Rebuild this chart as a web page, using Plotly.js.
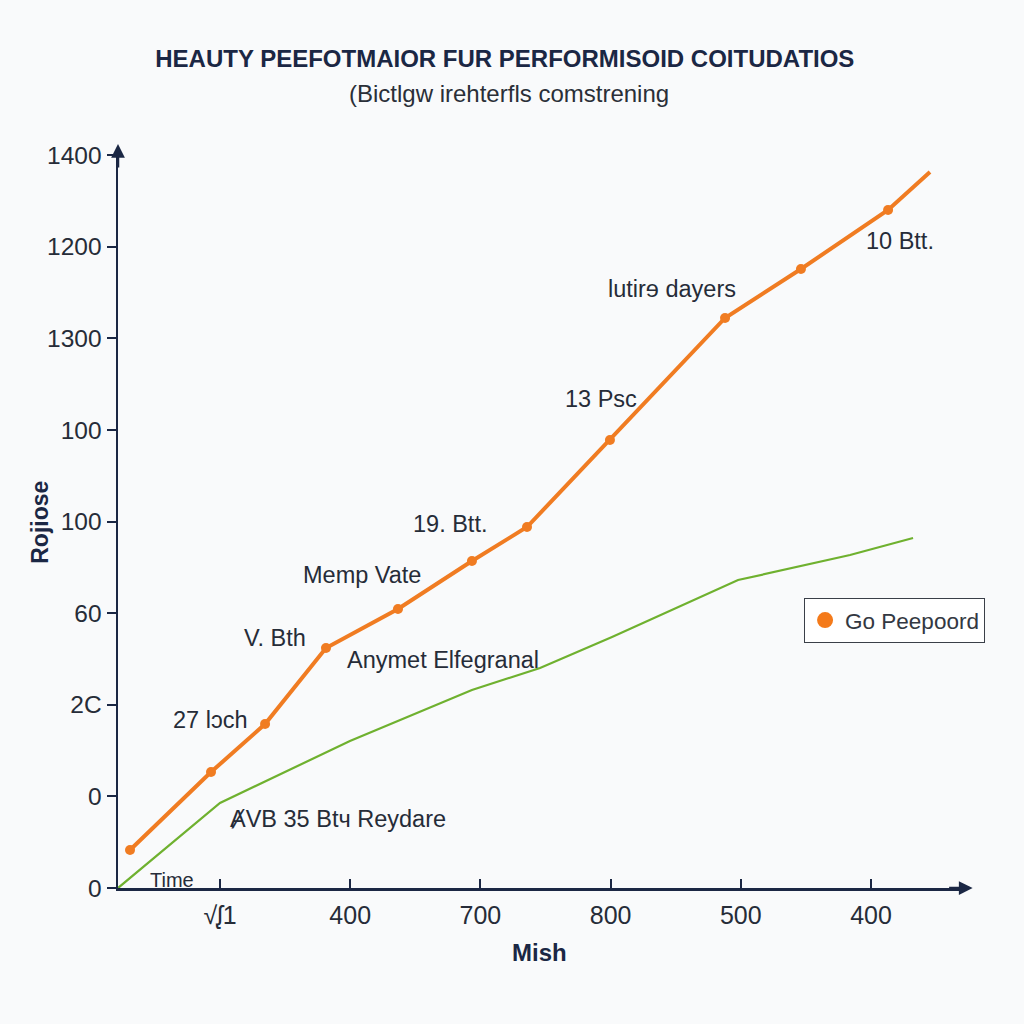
<!DOCTYPE html>
<html>
<head>
<meta charset="utf-8">
<script src="https://cdn.plot.ly/plotly-3.0.1.min.js"></script>
<style>html,body{margin:0;padding:0;background:#f9fafb;}#chart{width:1024px;height:1024px;}</style>
</head>
<body>
<div id="chart"></div>
<script>
// Data (positions expressed in tick-index units of the garbled axes)
const xTickVals = [1, 2, 3, 4, 5, 6];
const xTickText = ["√ᶘ1", "400", "700", "800", "500", "400"];
const yTickVals = [0, 1, 2, 3, 4, 5, 6, 7, 8];
const yTickText = ["0", "0", "2C", "60", "100", "100", "1300", "1200", "1400"];

const orangeX = [0.309, 0.931, 1.346, 1.814, 2.367, 2.935, 3.358, 3.995, 4.879, 5.462, 6.131, 6.453];
const orangeY = [0.415, 1.266, 1.790, 2.620, 3.046, 3.570, 3.941, 4.891, 6.223, 6.758, 7.402, 7.817];
const greenX = [0.217, 1.0, 1.998, 2.935, 3.458, 4.011, 4.979, 5.839, 6.323];
const greenY = [0.0, 0.928, 1.605, 2.162, 2.402, 2.740, 3.362, 3.635, 3.821];

const seriesName = "Go Peepoord";
const xTitle = "Mish";
const yTitle = "Rojiose";
const chartTitle = "HEAUTY PEEFOTMAIOR FUR PERFORMISOID COITUDATIOS";
const chartSubtitle = "(Bictlgw irehterfls comstrening";
const labelText = ["Time", "27 lɔch", "V. Bth", "Memp Vate", "Anymet Elfegranal", "19. Btt.", "13 Psc", "lutirɘ dayers", "10 Btt.", "ȺVB 35 Btч Reydare"];
const labelX = [0.63, 0.92, 1.42, 2.09, 2.71, 2.77, 3.93, 4.47, 6.22, 1.91];
const labelY = [0.09, 1.83, 2.73, 3.42, 2.49, 3.97, 5.34, 6.54, 7.06, 0.75];

const navy = "#1b2744";
const textCol = "#262c38";
const FONT = "Liberation Sans, Arial, sans-serif";

const traces = [
  {x: greenX, y: greenY, mode: "lines", line: {color: "#6fb12f", width: 2.2}, showlegend: false, hoverinfo: "skip"},
  {x: orangeX, y: orangeY, mode: "lines", line: {color: "#f07c22", width: 4}, showlegend: false, hoverinfo: "skip"},
  {x: orangeX.slice(0, -1), y: orangeY.slice(0, -1), mode: "markers",
   marker: {color: "#f07c22", size: 10}, showlegend: false},
  {x: [null], y: [null], mode: "markers", name: seriesName, marker: {color: "#f47a1a", size: 16}, showlegend: true}
];

const annotations = labelText.map((t, i) => ({
  x: labelX[i], y: labelY[i], xref: "x", yref: "y", text: t, showarrow: false,
  font: {family: FONT, size: i === 0 ? 20 : 23.5, color: textCol}
}));
annotations.push({xref: "paper", yref: "paper", x: 1.009, y: 0, ax: -25, ay: 0, text: "", showarrow: true,
  arrowhead: 2, arrowsize: 1.1, arrowwidth: 2.5, arrowcolor: navy});
annotations.push({xref: "paper", yref: "paper", x: 0, y: 1.008, ax: 0, ay: 25, text: "", showarrow: true,
  arrowhead: 2, arrowsize: 1.1, arrowwidth: 2.5, arrowcolor: navy});
annotations.push({xref: "paper", yref: "paper", x: 0.462, y: 1.077, yanchor: "middle",
  text: chartSubtitle, showarrow: false, font: {family: FONT, size: 24, color: "#2a2f38"}});
annotations.push({xref: "paper", yref: "paper", x: -0.092, y: 0.495, xanchor: "center", yanchor: "middle", textangle: -90,
  text: "<b>" + yTitle + "</b>", showarrow: false, font: {family: FONT, size: 23, color: navy}});
annotations.push({xref: "paper", yref: "paper", x: 0.498, y: -0.088, yanchor: "middle",
  text: "<b>" + xTitle + "</b>", showarrow: false, font: {family: FONT, size: 24, color: navy}});

const layout = {
  width: 1024, height: 1024,
  paper_bgcolor: "#f9fafb", plot_bgcolor: "#f9fafb",
  margin: {l: 118, r: 59, t: 150, b: 136},
  title: {text: "<b>" + chartTitle + "</b>", x: 0.493, xanchor: "center",
    y: 0.943, yanchor: "middle", font: {family: FONT, size: 24, color: navy}},
  xaxis: {range: [0.2166, 6.722], tickvals: xTickVals, ticktext: xTickText, ticks: "inside", ticklen: 9,
    tickwidth: 2, tickcolor: navy, showline: true, linecolor: navy, linewidth: 2.5, showgrid: false, zeroline: false,
    tickfont: {family: FONT, size: 25, color: textCol}, ticklabelstandoff: 3},
  yaxis: {range: [0, 8.057], tickvals: yTickVals, ticktext: yTickText, ticks: "outside", ticklen: 9,
    tickwidth: 2, tickcolor: navy, showline: true, linecolor: navy, linewidth: 2.5, showgrid: false, zeroline: false,
    tickfont: {family: FONT, size: 24.5, color: textCol}},
  legend: {x: 0.81, y: 0.393, xanchor: "left", yanchor: "top", bgcolor: "#ffffff", bordercolor: "#3a3f48",
    borderwidth: 1, font: {family: FONT, size: 22.5, color: "#333842"}},
  annotations: annotations,
  showlegend: true
};

Plotly.newPlot("chart", traces, layout, {displayModeBar: false, staticPlot: true});
</script>
</body>
</html>
